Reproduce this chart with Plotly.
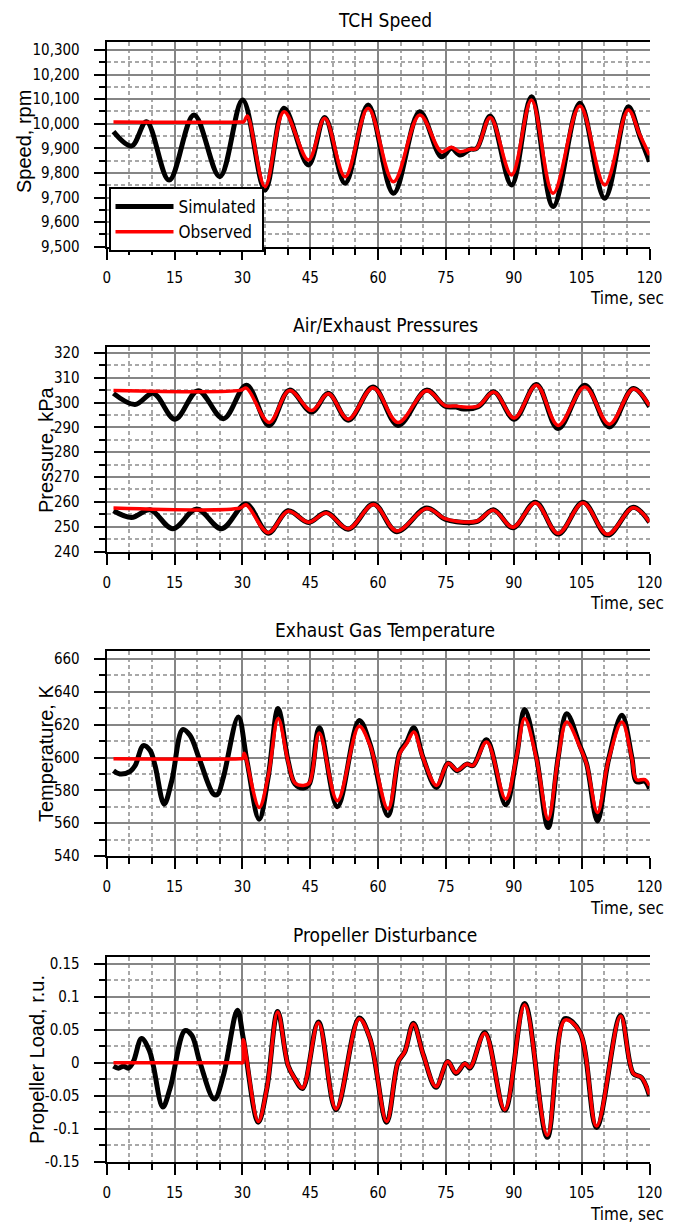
import plotly.graph_objects as go

# ---------------- DATA ----------------
# Panel 1: TCH Speed (rpm)
speed_t_sim = [1.5, 5.5, 8.8, 13.8, 19.3, 25.0, 30.05, 35.0, 39.2, 44.6, 48.2, 52.7, 57.8, 63.4, 69.2,
               74.0, 76.2, 78.1, 80.3, 81.8, 84.8, 89.5, 93.9, 98.7, 104.6, 110.1, 115.3, 117.9, 120.0]
speed_sim = [9968, 9910, 10008, 9771, 10036, 9785, 10097, 9731, 10063, 9832, 10026, 9758, 10076, 9717, 10049,
             9866, 9900, 9873, 9896, 9900, 10032, 9751, 10110, 9663, 10083, 9697, 10069, 9947, 9846]
speed_t_obs = [1.5, 29.5, 30.3, 31.1, 35.0, 39.2, 44.6, 48.2, 52.7, 57.8, 63.4, 69.2, 74.0, 76.2, 78.1,
               80.3, 81.8, 84.8, 89.5, 93.9, 98.7, 104.6, 110.1, 115.3, 117.9, 120.0]
speed_obs = [10007, 10007, 10008, 10032, 9744, 10049, 9853, 10022, 9785, 10063, 9764, 10036, 9886, 9905, 9886,
             9896, 9900, 10026, 9792, 10097, 9717, 10072, 9751, 10056, 9953, 9873]

# Panel 2: Air/Exhaust Pressures (kPa) - upper curve
p_hi_t_sim = [1.5, 6.25, 10.3, 15.1, 20.2, 25.8, 30.9, 35.9, 40.4, 45.3, 49.0, 53.4, 58.9, 64.4, 70.7,
              74.8, 77.3, 78.4, 82.1, 85.6, 90.1, 95.0, 99.8, 105.7, 111.1, 116.4, 120.0]
p_hi_sim = [303.7, 299.2, 303.7, 293.3, 304.8, 293.5, 307.0, 290.8, 305.0, 296.2, 303.7, 292.9, 306.3, 290.8, 305.0,
            298.5, 298.2, 297.5, 298.3, 304.3, 293.3, 307.3, 289.5, 307.0, 290.2, 305.7, 298.3]
p_hi_t_obs = [1.5, 29.5, 30.9, 35.9, 40.4, 45.3, 49.0, 53.4, 58.9, 64.4, 70.7, 74.8, 77.3, 78.4, 82.1,
              85.6, 90.1, 95.0, 99.8, 105.7, 111.1, 116.4, 120.0]
p_hi_obs = [304.9, 304.9, 305.8, 292.0, 304.8, 296.8, 303.5, 293.3, 306.0, 292.0, 304.8, 298.8, 298.6, 298.3, 298.6,
            304.2, 293.8, 307.0, 290.8, 306.3, 291.3, 305.5, 298.8]

# Panel 2: lower curve
p_lo_t_sim = [1.5, 5.5, 9.6, 14.6, 19.9, 25.4, 30.8, 35.7, 40.1, 44.6, 48.6, 53.4, 59.0, 64.1, 70.7,
              74.8, 77.3, 81.8, 85.5, 89.8, 94.8, 99.8, 105.3, 110.7, 116.4, 120.0]
p_lo_sim = [256.4, 253.7, 256.8, 249.2, 257.1, 249.2, 259.1, 247.4, 256.4, 251.7, 255.7, 249.0, 259.1, 248.0, 257.5,
            253.0, 252.0, 252.0, 256.8, 249.6, 259.8, 247.0, 259.8, 246.6, 257.8, 251.7]
p_lo_t_obs = [1.5, 29.5, 30.8, 35.7, 40.1, 44.6, 48.6, 53.4, 59.0, 64.1, 70.7, 74.8, 77.3, 81.8, 85.5,
              89.8, 94.8, 99.8, 105.3, 110.7, 116.4, 120.0]
p_lo_obs = [257.5, 257.5, 258.8, 247.6, 256.2, 251.8, 255.5, 249.2, 258.9, 248.3, 257.3, 253.2, 252.2, 252.2, 256.6,
            249.8, 259.5, 247.3, 259.5, 246.9, 257.6, 251.9]

# Panel 3: Exhaust Gas Temperature (K)
temp_t_sim = [1.5, 2.9, 5.2, 6.3, 8.1, 9.6, 10.7, 12.7, 14.4, 16.8, 18.4, 20.6, 23.6, 24.5, 25.8, 29.1,
              31.0, 33.7, 35.7, 37.9, 40.1, 41.6, 43.5, 44.8, 47.0, 51.0, 55.8, 58.2, 62.2, 64.8, 66.3,
              67.9, 69.9, 72.9, 75.5, 77.5, 79.6, 81.0, 84.0, 88.2, 90.6, 92.4, 95.0, 97.6, 99.8, 101.7,
              104.6, 106.1, 108.5, 110.9, 113.9, 116.1, 117.1, 119.0, 120.0]
temp_sim = [592.0, 590.0, 591.6, 595.1, 607.3, 604.3, 595.0, 571.6, 586.0, 617.0, 613.5, 598.2, 577.8, 577.5, 588.0, 624.7,
            598.0, 562.4, 588.0, 629.8, 598.0, 583.9, 581.4, 583.9, 618.2, 570.0, 622.6, 608.4, 564.5, 603.2, 609.4,
            618.2, 600.2, 581.8, 596.5, 592.0, 596.0, 595.1, 610.8, 571.2, 600.3, 629.2, 600.3, 557.3, 600.0, 626.7,
            607.3, 596.1, 561.4, 598.2, 625.7, 600.0, 585.3, 585.5, 581.0]
temp_t_obs = [1.5, 29.5, 30.1, 30.4, 33.7, 35.7, 37.9, 40.1, 41.6, 43.5, 44.8, 47.0, 51.0, 55.8, 58.2,
              62.2, 64.8, 66.3, 67.9, 69.9, 72.9, 75.5, 77.5, 79.6, 81.0, 84.0, 88.2, 90.6, 92.4, 95.0,
              97.6, 99.8, 101.7, 104.6, 106.1, 108.5, 110.9, 113.9, 116.1, 117.1, 119.0, 120.0]
temp_obs = [599.2, 599.2, 599.4, 602.6, 569.6, 588.5, 623.7, 597.5, 584.5, 583.0, 584.5, 614.9, 573.7, 619.0, 607.5,
            568.6, 602.5, 608.5, 615.5, 600.0, 583.0, 596.5, 592.3, 596.0, 595.2, 609.4, 574.7, 600.5, 623.7, 599.5,
            562.4, 599.5, 621.6, 606.5, 596.0, 566.5, 598.0, 621.6, 599.5, 586.5, 586.5, 583.0]

# Panel 4: Propeller Disturbance (r.u.)
prop_t_sim = [1.5, 2.6, 3.7, 4.8, 5.9, 7.7, 9.4, 10.3, 12.4, 14.0, 17.3, 18.8, 20.6, 23.8, 25.8, 28.9,
              30.2, 33.5, 35.4, 37.8, 40.1, 41.6, 43.3, 46.8, 50.7, 55.8, 58.2, 61.9, 64.4, 65.9, 67.8,
              70.0, 72.8, 75.4, 77.2, 79.2, 80.3, 83.6, 88.0, 92.4, 97.4, 101.3, 104.6, 108.3, 113.6,
              116.4, 118.2, 120.0]
prop_sim = [-0.005, -0.008, -0.005, -0.008, 0.002, 0.037, 0.019, -0.004, -0.067, -0.039, 0.049, 0.042, 0.001, -0.055,
            -0.019, 0.080, 0.037, -0.090, -0.039, 0.078, -0.004, -0.024, -0.039, 0.062, -0.071, 0.068, 0.037, -0.090,
            0.001, 0.017, 0.060, 0.012, -0.037, 0.002, -0.016, -0.001, -0.008, 0.046, -0.072, 0.090, -0.113, 0.067,
            0.047, -0.098, 0.072, -0.016, -0.022, -0.050]
prop_t_obs = [1.5, 29.5, 30.05, 30.2, 33.5, 35.4, 37.8, 40.1, 41.6, 43.3, 46.8, 50.7, 55.8, 58.2, 61.9, 64.4,
              65.9, 67.8, 70.0, 72.8, 75.4, 77.2, 79.2, 80.3, 83.6, 88.0, 92.4, 97.4, 101.3, 104.6, 108.3,
              113.6, 116.4, 118.2, 120.0]
prop_obs = [0.0, 0.0, 0.0, 0.035, -0.089, -0.039, 0.077, -0.004, -0.024, -0.038, 0.061, -0.070, 0.067, 0.037, -0.089,
            0.001, 0.017, 0.059, 0.012, -0.036, 0.002, -0.015, -0.001, -0.007, 0.045, -0.071, 0.088, -0.110, 0.065,
            0.047, -0.096, 0.071, -0.016, -0.022, -0.048]

# Axis ticks / labels
x_ticks = [0, 15, 30, 45, 60, 75, 90, 105, 120]
speed_ticks = [9500, 9600, 9700, 9800, 9900, 10000, 10100, 10200, 10300]
speed_labels = ["9,500", "9,600", "9,700", "9,800", "9,900", "10,000", "10,100", "10,200", "10,300"]
press_ticks = [240, 250, 260, 270, 280, 290, 300, 310, 320]
temp_ticks = [540, 560, 580, 600, 620, 640, 660]
prop_ticks = [-0.15, -0.1, -0.05, 0, 0.05, 0.1, 0.15]
prop_labels = ["-0.15", "-0.1", "-0.05", "0", "0.05", "0.1", "0.15"]

titles = ["TCH Speed", "Air/Exhaust Pressures", "Exhaust Gas Temperature", "Propeller Disturbance"]
ytitles = ["Speed, rpm", "Pressure, kPa", "Temperature, K", "Propeller Load, r.u."]

# ---------------- FIGURE ----------------
# The page body has an 8px margin, so the figure is shifted by OFF and sized to fit.
OFF = 8
W, H = 678 - OFF, 1225 - OFF

def px(p):
    return (p - OFF) / W

def py(p):
    return 1 - (p - OFF) / H

BLACK = "#000000"
RED = "#ff0000"
COND = "DejaVu Sans Condensed, DejaVu Sans, sans-serif"
TICKFONT = dict(family=COND, size=15, color="black")

fig = go.Figure()

def add(x, y, color, width, ax, name, showlegend):
    fig.add_trace(go.Scatter(x=x, y=y, mode="lines", name=name, showlegend=showlegend,
                             line=dict(color=color, width=width, shape="spline", smoothing=1.0),
                             xaxis="x" + ax, yaxis="y" + ax, hoverinfo="skip"))

add(speed_t_sim, speed_sim, BLACK, 5, "", "Simulated", True)
add(speed_t_obs, speed_obs, RED, 3.5, "", "Observed", True)
add(p_hi_t_sim, p_hi_sim, BLACK, 5, "2", "Simulated", False)
add(p_lo_t_sim, p_lo_sim, BLACK, 5, "2", "Simulated", False)
add(p_hi_t_obs, p_hi_obs, RED, 3.5, "2", "Observed", False)
add(p_lo_t_obs, p_lo_obs, RED, 3.5, "2", "Observed", False)
add(temp_t_sim, temp_sim, BLACK, 5, "3", "Simulated", False)
add(temp_t_obs, temp_obs, RED, 3.5, "3", "Observed", False)
add(prop_t_sim, prop_sim, BLACK, 5, "4", "Simulated", False)
add(prop_t_obs, prop_obs, RED, 3.5, "4", "Observed", False)

# pixel layout of panels (top, bottom) in page pixels
panels = [(41.7, 246.7), (346.7, 551.5), (651.0, 856.0), (957.3, 1161.7)]
xdom = [px(106.7), px(649.5)]
yranges = [[9500, 10333.8], [240, 322.5], [540, 664.9], [-0.15, 0.1602]]
ytickvals = [speed_ticks, press_ticks, temp_ticks, prop_ticks]
yticktext = [speed_labels, [str(v) for v in press_ticks], [str(v) for v in temp_ticks], prop_labels]
yminor = [50, 5, 10, 0.025]
ytick0 = [9500, 240, 540, -0.15]

MAJ_GRID = "#858585"
MIN_GRID = "#a8a8a8"

layout = dict(width=W, height=H, autosize=False,
              margin=dict(l=0, r=0, t=0, b=0, pad=0, autoexpand=False),
              paper_bgcolor="white", plot_bgcolor="white",
              legend=dict(x=px(108.5), y=py(187), xanchor="left", yanchor="top",
                          bgcolor="white", bordercolor="black", borderwidth=2,
                          font=dict(family=COND, size=17, color="black"),
                          tracegroupgap=0, itemwidth=58, entrywidth=128, entrywidthmode="pixels",
                          orientation="v"),
              annotations=[])

for i, (top, bot) in enumerate(panels):
    sfx = "" if i == 0 else str(i + 1)
    layout["xaxis" + sfx] = dict(
        domain=xdom, range=[0, 120], anchor="y" + sfx, automargin=False,
        tickmode="array", tickvals=x_ticks, ticks="outside", ticklen=11, tickwidth=2, tickcolor="black",
        showline=True, linecolor="black", linewidth=2, mirror=True,
        showgrid=True, gridcolor=MAJ_GRID, gridwidth=2, zeroline=False,
        tickfont=TICKFONT, ticklabelstandoff=5,
        minor=dict(tick0=0, dtick=5, ticks="outside", ticklen=6, tickwidth=2, tickcolor="black",
                   showgrid=True, gridcolor=MIN_GRID, gridwidth=1.5, griddash="4px,3px"))
    layout["yaxis" + sfx] = dict(
        domain=[py(bot), py(top)], range=yranges[i], anchor="x" + sfx, automargin=False,
        tickmode="array", tickvals=ytickvals[i], ticktext=yticktext[i],
        ticks="outside", ticklen=11, tickwidth=2, tickcolor="black",
        showline=True, linecolor="black", linewidth=2, mirror=False,
        showgrid=True, gridcolor=MAJ_GRID, gridwidth=2, zeroline=False,
        tickfont=TICKFONT, ticklabelstandoff=11,
        minor=dict(tick0=ytick0[i], dtick=yminor[i], ticks="outside", ticklen=6, tickwidth=2,
                   tickcolor="black", showgrid=True, gridcolor=MIN_GRID, gridwidth=1.5,
                   griddash="4px,3px"))

title_y = [20, 325, 630, 935]
ytitle_x = [24, 46, 46, 37]
ytitle_y = [142, 450, 754, 1060]
time_y = [298, 603, 908, 1214]
ann = []
for i in range(4):
    ann.append(dict(text=titles[i], x=px(385), y=py(title_y[i]), xref="paper", yref="paper",
                    xanchor="center", yanchor="middle", showarrow=False,
                    font=dict(family=COND, size=19, color="black")))
    ann.append(dict(text=ytitles[i], x=px(ytitle_x[i]), y=py(ytitle_y[i]), xref="paper", yref="paper",
                    xanchor="center", yanchor="middle", showarrow=False, textangle=-90,
                    font=dict(family="Liberation Sans, Arial, sans-serif", size=20, color="black")))
    ann.append(dict(text="Time, sec", x=px(666), y=py(time_y[i]), xref="paper", yref="paper",
                    xanchor="right", yanchor="middle", showarrow=False,
                    font=dict(family=COND, size=17, color="black")))
layout["annotations"] = ann

fig.update_layout(**layout)
fig.write_html("out.html")
